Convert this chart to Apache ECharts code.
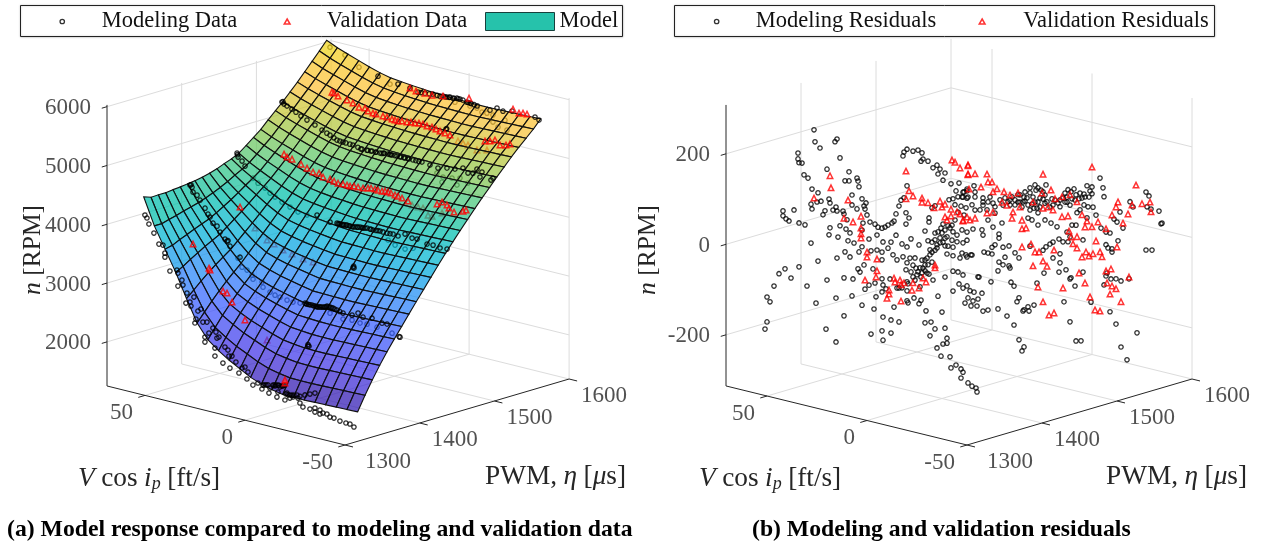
<!DOCTYPE html>
<html><head><meta charset="utf-8">
<style>html,body{margin:0;padding:0;background:#fff}#c{width:1266px;height:544px}</style>
<script src="https://cdn.jsdelivr.net/npm/echarts@6/dist/echarts.min.js"></script>
</head><body><div id="c"></div>
<script>
// ---------- axes ----------
const vTicks=[-50,0,50], pwmTicks=[1300,1400,1500,1600], rpmTicks=[2000,3000,4000,5000,6000], resTicks=[-200,0,200];
// ---------- model surface ----------
const surfaceV=[-47,-41.65,-36.3,-30.95,-25.6,-20.25,-14.9,-9.55,-4.2,1.15,6.5,11.85,17.2,22.55,27.9,33.25,38.6,43.95,49.3,54.65,60];
const surfaceP=[1325,1334.8,1344.6,1354.4,1364.2,1374,1383.8,1393.6,1403.4,1413.2,1423,1432.8,1442.6,1452.4,1462.2,1472,1481.8,1491.6,1501.4,1511.2,1521,1530.8,1540.6,1550.4,1560.2,1570];
const surfaceN=[
[1695,1690,1685,1680,1675,1670,1670,1675,1710,1760,1830,1930,2030,2150,2290,2530,2900,3300,3650,4000,4450],
[1940,1935,1930,1925,1920,1915,1915,1920,1950,1988,2057,2145,2231,2338,2462,2678,3008,3364,3678,4001,4405],
[2165,2160,2155,2150,2145,2140,2140,2145,2170,2202,2265,2343,2420,2518,2631,2827,3125,3448,3738,4037,4410],
[2375,2370,2365,2360,2355,2350,2350,2355,2375,2400,2457,2526,2595,2682,2784,2964,3230,3522,3789,4066,4410],
[2570,2565,2560,2555,2550,2545,2545,2550,2565,2583,2634,2695,2756,2834,2928,3093,3330,3596,3844,4105,4425],
[2750,2745,2740,2735,2730,2725,2725,2730,2740,2752,2798,2851,2905,2975,3060,3211,3422,3661,3893,4137,4435],
[2925,2920,2915,2910,2905,2900,2900,2905,2910,2915,2956,3002,3049,3110,3187,3326,3511,3726,3942,4173,4450],
[3100,3095,3090,3085,3080,3075,3075,3080,3085,3090,3126,3168,3209,3264,3333,3458,3623,3816,4010,4217,4465],
[3275,3270,3265,3260,3255,3250,3250,3255,3260,3265,3297,3334,3371,3420,3481,3592,3740,3912,4084,4269,4490],
[3445,3440,3435,3430,3425,3420,3420,3425,3430,3435,3463,3495,3528,3572,3626,3724,3855,4008,4160,4324,4520],
[3615,3610,3605,3600,3595,3590,3590,3595,3600,3605,3629,3658,3686,3725,3773,3859,3974,4109,4243,4387,4560],
[3785,3780,3775,3770,3765,3760,3760,3765,3770,3775,3795,3820,3846,3879,3921,3997,4098,4215,4333,4459,4610],
[3950,3945,3940,3935,3930,3925,3925,3930,3935,3940,3957,3978,4000,4029,4065,4129,4216,4317,4417,4525,4655],
[4110,4105,4100,4095,4090,4085,4085,4090,4095,4100,4114,4132,4151,4176,4207,4262,4337,4424,4510,4603,4715],
[4265,4260,4255,4250,4245,4240,4240,4245,4250,4255,4267,4284,4300,4323,4351,4401,4468,4547,4625,4709,4810],
[4415,4410,4405,4400,4395,4390,4390,4395,4400,4405,4415,4431,4446,4466,4492,4538,4599,4670,4742,4818,4910],
[4565,4560,4555,4550,4545,4540,4540,4545,4550,4555,4564,4578,4591,4610,4633,4674,4729,4794,4858,4927,5010],
[4710,4705,4700,4695,4690,4685,4685,4690,4695,4700,4708,4721,4735,4752,4774,4814,4867,4928,4990,5056,5135],
[4850,4845,4840,4835,4830,4825,4825,4830,4835,4840,4848,4860,4873,4890,4911,4948,4999,5058,5116,5179,5255],
[4990,4985,4980,4975,4970,4965,4965,4970,4975,4980,4987,4999,5011,5026,5046,5082,5129,5184,5240,5299,5370],
[5125,5120,5115,5110,5105,5100,5100,5105,5110,5115,5122,5133,5145,5161,5180,5215,5262,5317,5371,5430,5500],
[5260,5255,5250,5245,5240,5235,5235,5240,5245,5250,5257,5268,5280,5295,5314,5349,5395,5449,5503,5561,5630],
[5385,5380,5375,5370,5365,5360,5360,5365,5370,5375,5382,5394,5406,5422,5442,5478,5526,5582,5638,5698,5770],
[5505,5500,5495,5490,5485,5480,5480,5485,5490,5495,5503,5515,5528,5545,5566,5603,5654,5713,5771,5834,5910],
[5625,5620,5615,5610,5605,5600,5600,5605,5610,5615,5623,5636,5650,5667,5689,5729,5782,5843,5905,5971,6050],
[5760,5755,5750,5745,5740,5735,5735,5740,5745,5750,5759,5772,5786,5804,5826,5867,5921,5984,6047,6114,6195]];
// ---------- modeling data [V, n], by PWM level ----------
const model1320=[[57.5,4179],[56.5,4137],[55.5,4043],[53,3911],[50.5,3744],[48.5,3744],[47.5,3616],[47.5,3548],[45,3333],[41.5,3378],[41,3331],[39,3229],[41,3110],[38.5,3149],[36.5,3030],[37,2855],[35,2889],[33,2991],[34.5,2826],[31,2770],[29.5,2816],[32,2625],[32.5,2554],[28.5,2603],[26.5,2620],[23.5,2544],[22,2489],[25.5,2442],[27.5,2357],[27.5,2272],[21.5,2391],[20.5,2416],[22.5,2212],[22.5,2076],[18.5,1991],[15,1935],[17.5,2272],[16,2233],[14,2148],[15.5,2136],[12,2063],[10.5,1889],[9,1986],[7.5,2017],[6.5,1821],[6,1944],[3.5,1743],[1,1799],[-1,1714],[-4.5,1675],[-1.5,1786],[-4,1808],[-6.5,1828],[-9,1848],[-12.5,1879],[-8.5,1641],[-12.5,1624],[-15,1678],[-16.5,1709],[-19,1712],[-20,1636],[-22.5,1794],[-25,1831],[-27.5,1869],[-21.5,1580],[-25,1576],[-27.5,1614],[-27.5,1546],[-30,1602],[-31.5,1563],[-30,1534],[-33.5,1563],[-35,1524],[-37,1524],[-40,1498],[-43,1490],[-45,1490],[-47,1456],[-9,1729],[-15,1729],[-13.5,1751],[-10,1823],[-18.5,1760],[-7.5,1820],[-11,1848],[-5,1765],[-7,1830],[-8,1842],[-9.5,1850],[-11.5,1860],[-12,1870],[-3,1800],[-2,1790],[-13,1730],[-14,1725],[-16,1735],[-17,1745],[-20,1750]];
const model1360=[[-9.1,2364],[-9.6,2364],[-9.1,2390]];
const model1388=[[60.35,4409],[59.85,4420],[59.35,4383],[58.85,4303],[56.85,4269],[55.35,4196],[52.85,4081],[51.35,3992],[50.35,3950],[48.85,3860],[46.85,3826],[45.35,3737],[42.85,3639],[41.85,3613],[41.35,3625],[40.35,3540],[35.35,3395],[2.85,2887],[1.85,2879],[-0.65,2884],[-2.15,2879],[-3.65,2875],[-5.65,2892],[-7.15,2904],[-8.15,2930],[-9.65,2925],[-11.15,2921],[-13.15,2904],[-16.15,2879],[-20.65,2882],[-23.65,2942],[-26.15,2894],[-30.65,2914],[-35.65,2872],[-38.15,2877],[-44.65,2710],[-44.2,2715],[2.3,2882],[1,2880],[-1.5,2880],[-3,2876],[-4.5,2885],[-6.5,2898],[-7.8,2915],[-9,2925],[-10.5,2922],[-12,2912],[-14.5,2892],[0.3,2880],[-2.8,2878],[-5,2888]];
const model1420=[[-9.7,3470],[-9.2,3475],[-9.5,3500]];
const model1450=[[60,4725],[59.5,4662],[59.8,4700],[57.5,4611],[56,4538],[20,4009],[13.5,3945],[10,3956],[8.5,3953],[5,3965],[2,3956],[-1.5,3985],[-5,3999],[-8,3990],[-11.5,4002],[-15,3997],[-18,4006],[-20.5,3994],[-24,4057],[-27.5,4018],[-30,4023],[-35,3979],[-38,3987],[-41.5,3967],[-45,3979],[7,3948],[3.5,3962],[0,3973],[-3,3982],[-6.5,3994],[9,3955],[6.5,3960],[4,3962],[1,3968],[-2.5,3985],[-4,3990],[-7,3995],[-9.5,3995],[-10.5,4000],[-13,4000],[-16.5,4000],[9.5,3950],[7.5,3955],[5.5,3960],[2.5,3962],[-0.5,3975]];
const model1510=[[59.95,5369],[59.45,5380],[58.95,5344],[57.45,5322],[54.95,5291],[52.95,5257],[50.45,5211],[47.45,5169],[43.45,5118],[39.95,5061],[35.95,5010],[32.45,4954],[29.45,4946],[24.45,4937],[19.95,4907],[14.95,4915],[10.95,4915],[6.95,4932],[2.45,4936],[-1.55,4936],[-5.55,4936],[-10.05,4939],[-14.05,4922],[-18.05,4905],[-22.55,4942],[-26.55,4959],[-30.55,5010],[-33.05,4946],[-35.55,4966],[-37.55,5051],[-40.05,5022],[-39.05,4929],[-45.55,4966],[-44.55,4924],[17.45,4910],[12.95,4915],[8.95,4932],[4.95,4931],[0.45,4936],[-3.55,4936],[22,4920],[17,4908],[13,4912],[9,4925],[6,4932],[3.5,4935],[1,4936],[-1,4936],[-3,4936],[-7,4936],[-8.5,4937],[20.5,4905],[15.5,4912],[10,4918],[5.5,4932],[26,4940],[28,4944],[31,4950],[34,4980],[37.5,5030]];
const model1540=[[-10.85,5395],[-11.2,5405]];
const model1568=[[33.6,5815],[23.6,5764],[17.6,5747],[13.6,5712],[10.1,5724],[6.1,5741],[2.6,5736],[-0.9,5750],[-3.9,5757],[-7.4,5770],[-10.9,5748],[-12.4,5745],[-22.4,5709],[-25.9,5774],[-28.9,5747],[-33.4,5786],[-44.9,5781],[-46.9,5747],[1.1,5750],[-2.4,5762],[-5.9,5774],[-8.9,5765],[12,5718],[8,5730],[4,5738],[0,5745],[-2,5755],[-4.5,5760],[-6.5,5768],[-11.5,5747],[-13,5742],[-14.5,5735],[-16,5728]];
// modeling points that lie under the surface
const under1388=[[36.35,3370],[34.35,3234],[31.85,3205],[29.35,3140],[28.85,3076],[24.35,3064],[23.85,2982],[20.35,2928],[17.85,2897],[15.35,2884],[11.85,2863],[8.85,2855],[5.35,2867],[-9.65,2823],[-16.15,2777],[-20.65,2797],[-24.65,2780],[-28.15,2792],[-33.15,2783],[-40.65,2744]];
const under1450=[[52,4368],[49.5,4303],[46,4249],[43.5,4184],[41,4138],[37.5,4082],[33.5,4031],[29.5,3980],[25,3967],[-15.5,3883],[-19,3827],[-24,3802],[-28,3851]];
const under1510=[[-17.55,4815],[-20.55,4772],[-25.05,4793],[-29.05,4827],[-27.55,4696],[-33.05,4776],[-20.05,4682]];
const under1550=[[-11.6,5821],[-22.6,5813],[-25.1,5765],[-27.6,5770],[-30.6,5762],[-33.1,5578],[-36.6,5726],[-37.6,5565],[-30.6,5643],[-19.1,5818]];
const under1568=[[43.1,5888],[50.1,6034],[57.6,6105],[27.6,5730]];
// ---------- validation data [V, n], by PWM level ----------
const valid1320=[[-12.5,1913],[-12.5,1964]];
const valid1360=[[48.4,3613],[40.4,3271],[39.9,3242],[33.4,2940],[31.4,2923],[28.9,2790],[22.4,2540]];
const valid1420=[[47.3,4026]];
const valid1475=[[45.85,4733],[44.35,4696],[41.85,4682],[37.35,4635],[34.35,4592],[31.35,4550],[28.35,4558],[26.35,4507],[22.85,4502],[18.85,4468],[16.35,4473],[12.85,4468],[8.85,4485],[3.85,4511],[0.35,4523],[-3.15,4517],[-6.15,4526],[-9.65,4506],[-13.15,4483],[-16.15,4458],[20.85,4485],[14.35,4473],[10.85,4485],[6.35,4489],[2.35,4523],[-1.15,4517],[-4.65,4531],[-7.65,4523],[-11.15,4500],[-30.65,4529],[-33.15,4584],[-35.65,4555],[-36.65,4512],[-39.15,4465],[-43.65,4519],[-45.15,4550]];
const valid1540=[[46.15,5542],[45.15,5534],[43.15,5500],[38.65,5471],[35.65,5444],[32.65,5401],[29.65,5410],[28.15,5372],[25.65,5359],[20.65,5350],[16.15,5337],[13.15,5328],[8.65,5349],[4.65,5366],[0.65,5383],[-3.85,5369],[-7.85,5335],[-12.85,5310],[24.15,5354],[18.65,5350],[14.65,5333],[11.15,5345],[6.65,5366],[2.65,5383],[-1.35,5366],[-5.85,5352],[-10.35,5323],[-30.35,5355],[-32.85,5376],[-35.35,5415],[-37.85,5350],[-40.85,5376],[-42.85,5410]];
const valid1568=[[-11.9,5825],[17.6,5747],[10.1,5724],[1.1,5750],[-33.9,5823],[-36.9,5781],[-38.9,5798],[-40.9,5798],[14.6,5721],[6.6,5719]];
const validUnder1360=[[11.4,2292]];
const validUnder1420=[[39.8,3732],[33.8,3579],[30.3,3542],[25.8,3477],[21.3,3446],[15.8,3409],[10.8,3399]];
const validUnder1475=[[-18.15,4407],[-21.15,4398],[-23.65,4402],[-26.15,4303],[-28.15,4303],[-33.15,4397]];
const validUnder1540=[[-16.85,5242],[-19.35,5228],[-21.85,5216],[-26.35,5169],[-31.35,5211]];
// ---------- residuals [V, residual], by PWM level ----------
const resModel1330=[[37.75,274],[37.25,248],[34.75,237],[26.25,266],[27.25,259],[45.75,214],[45.75,201],[45.25,193],[43.75,194],[24.75,226],[31.25,194],[42.75,169],[40.75,164],[20.25,200],[22.25,178],[20.25,180],[38.75,142],[35.75,137],[39.25,108],[38.75,98],[36.25,116],[34.25,120],[30.25,129],[29.75,121],[26.75,115],[28.25,107],[26.25,107],[32.25,101],[33.25,91],[23.25,110],[22.75,104],[21.25,93],[53.25,78],[53.25,67],[51.75,62],[50.25,59],[47.75,86],[45.25,60],[42.25,59],[39.25,22],[29.75,66],[30.25,50],[24.75,76],[21.75,72],[25.75,50],[20.75,47],[52.25,-49],[55.25,-63],[49.25,-66],[45.25,-37],[57.75,-93],[61.25,-121],[59.75,-130],[61.25,-176],[62.25,-193],[35.75,-14],[26.25,3],[22.25,21],[41.25,-75],[31.25,-51],[22.75,-37],[26.75,-86],[36.75,-108],[22.75,-121],[31.75,-160],[26.75,-183],[-30.25,-154],[-30.75,-178],[-33.25,-169],[-35.75,-175],[-36.75,-181],[-35.75,-195],[-39.25,-202],[-41.25,-207],[-43.25,-209],[-43.75,-217]];
const resModel1400=[[42.5,128],[42,122],[41.5,110],[45,88],[40,85],[38,78],[39,70],[38.5,64],[45,66],[42.5,60],[37.5,52],[46,3],[44,-17],[39.5,32],[40,16],[40,-21],[36.5,0],[36,38],[33.5,36],[32,31],[30,31],[28.5,35],[27,41],[25,48],[24,53],[23,70],[21.5,89],[20.5,103],[19,110],[17.5,138],[19.5,202],[19,211],[17.5,219],[14.5,218],[12,223],[10,219],[10.5,200],[9.5,206],[7,204],[4.5,192],[2.5,200],[1,193],[2,181],[-1.5,187],[-0.5,170],[18,78],[16.5,68],[18,53],[23,23],[25.5,5],[29.5,1],[32.5,13],[15.5,23],[11.5,14],[20,7],[17.5,3],[6.5,79],[6.5,70],[8.5,48],[5,103],[3.5,109],[-3.5,130],[-1.5,61],[0,53],[1,41],[-2.5,47],[-0.5,33],[2.5,24],[-3,27],[7,28],[5,27],[41.5,-34],[46,-50],[44.5,-97],[45,-135],[40,-150],[34,-152],[35.5,-209],[29.5,-165],[25.5,-167],[21.5,-167],[30,-196],[25.5,-196],[29.5,-216],[39,-60],[42,-72],[41,-78],[34.5,-64],[33.5,-94],[36.5,-102],[38.5,-113],[33,-124],[30,-81],[29.5,-94],[26,-77],[28,-101],[30,-110],[24,-137],[21.5,-92],[17.5,-94],[14,-106],[17.5,-116],[17,-120],[11.5,-116],[10.5,-107],[8,-128],[2,-89],[0,-122],[8.5,-155],[5.5,-150],[3.5,-163],[-1.5,-156],[6,-181],[-2.5,-177],[-2.5,-188],[-0.5,-192],[2.5,-204],[0.5,-220],[32.5,-20],[35.5,-25],[30,-22],[27,-10],[24.5,-22],[30,-39],[22.5,-31],[19.5,-21],[16,-20],[13.5,-17],[10,-18],[7.5,-11],[5,5],[2.5,17],[17.5,-32],[18,-48],[14.5,-34],[11,-36],[8.5,-27],[7.5,-44],[10,-46],[12.5,-53],[14.5,-60],[4.5,-56],[6.5,-45],[17,-78],[11,-78],[13.5,-66],[22.5,-93],[20,-90],[17.5,-74],[-1.5,-43],[-2.5,9],[3.5,11],[6,-2],[8.5,-16],[7,-25],[5,-17],[9.5,-35],[12,-46],[8.5,-40],[10.5,-56],[13,-39],[15.5,-50],[6,9],[1,30],[-1.5,43],[3.5,34],[-1.5,26],[2,53],[-3,72],[-0.5,73],[3.5,49],[0.5,63]];
const resModel1480=[[25.5,95],[21.5,101],[23,82],[19.5,83],[17.5,88],[24.5,63],[22,70],[19.5,72],[17,75],[26,-3],[24.5,-10],[22.5,-15],[25,-29],[22.5,-30],[19.5,-29],[24.5,-44],[17.5,-21],[14,103],[17.5,92],[19,84],[13.5,90],[20,72],[17.5,72],[13.5,79],[9.5,81],[6,87],[9.5,65],[4.5,75],[15,60],[11,53],[7.5,57],[3.5,54],[-0.5,76],[-4,80],[-6.5,94],[-9,108],[-11.5,117],[-14,129],[-16.5,138],[-22,144],[-18,133],[-20.5,127],[-9,92],[-12.5,105],[-15.5,110],[-19,112],[-22.5,107],[-14,80],[-17.5,88],[-18,78],[-13,61],[-15,59],[-18,51],[-21.5,66],[0,36],[4.5,22],[7,35],[10,10],[14.5,7],[17.5,-3],[20,-1],[9.5,-1],[1.5,10],[1.5,1],[5,-23],[3.5,-16],[-0.5,-17],[-3.5,-11],[9,-38],[7,-38],[5,-38],[18,-54],[15.5,-51],[20,-52],[-1.5,-38],[-6.5,-23],[-8.5,-32],[1.5,-52],[-0.5,-56],[-3.5,-55],[-4,-59],[2,-72],[-14,0],[-20.5,-2],[-22,7],[-21,-52],[-4,91],[-6.5,83],[-10.5,94],[-13,90],[-16.5,100],[-19,92],[-21.5,103],[1,86],[3.5,68],[7,75],[9.5,72],[24.5,-63],[21,-64],[17.5,-58],[15,-51],[24.5,-97],[22,-96],[19.5,-100],[21.5,-122],[17.5,-122],[24.5,-141],[16,-131],[14,-132],[17,-148],[14.5,-152],[12,-145],[18.5,-161],[15.5,-164],[12.5,-161],[12,-96],[11.5,-96],[5.5,-100],[19.5,-129],[10,-130],[9.5,-169],[7,-164],[2,-156],[-2.5,-167],[-6,-183],[-8.5,-213],[-11,-226],[-10,-236],[-4.5,-90],[-6,-97],[-8.5,-120],[-7.5,-130],[-10.5,-147],[-11,-144],[-13,-135],[-13.5,-144],[-16,-128],[-17.5,-78],[-1.5,93],[-5,99],[-8,107],[-11,105],[-14,118],[-17,127],[-19.5,130],[-21.5,121],[-3,86],[-8,91],[-11.5,97],[-15,94],[-18,102],[-20.5,111],[-10,82],[-16,86],[23.5,51],[20.5,51],[18,50],[22,36],[19,33],[23.5,17],[25,4],[13.5,50]];
const resModel1570=[[8.25,23],[4.75,38],[1.25,48],[0.75,65],[-2.25,70],[-5.25,64],[-8.75,84],[-11.25,84],[-11.25,69],[-15.25,108],[-16.75,88],[-17.25,69],[-7.75,58],[-7.25,40],[-11.75,40],[-9.25,38],[-5.25,27],[-3.75,19],[-13.25,24],[-8.75,13],[9.25,-18],[6.25,-23],[9.75,17],[7.25,35],[4.75,23],[2.25,36],[-0.25,32],[-2.75,46],[-6.25,54],[9.75,-65],[8.25,-59],[5.25,-49],[3.25,-53],[0.75,-50],[1.25,-29],[-1.25,-11],[-3.25,-9],[-0.25,-38],[-6.75,-38],[8.25,-94],[4.75,-81],[4.75,-101],[1.75,-113],[5.25,-122],[-6.75,-109],[-0.75,-128],[-15.75,-2],[-18.25,-8],[-20.25,-8],[-24.25,-21],[-18.25,-36],[-19.25,-42],[-21.25,-42],[-21.25,-49],[-26.75,10],[-23.75,20],[-22.25,25],[-25.25,44],[-30.25,72],[-31.75,62],[-38.25,102],[-39.75,95],[-38.75,70],[-40.75,67],[-44.75,67],[-46.25,42],[-45.75,40],[-38.25,-26],[-41.25,-23],[-18.75,-98],[-0.25,-131],[-2.75,-144],[2.75,-185],[-0.25,-226],[-3.25,-265],[-5.75,-262],[-10.75,-171],[-17.25,-126],[-18.25,-105],[-20.75,-109],[-23.25,-106],[-25.75,-108],[-20.25,-182],[-23.25,-206],[-33.75,-214],[-25.75,-254],[-28.75,-279],[-29.75,-99],[8.75,36],[5.75,30],[3.25,44],[1.25,37],[-1.25,47],[-3.25,58],[-4.75,51],[-7.25,64],[-10.25,74],[-9.75,60],[-0.75,62],[2.25,56]];
const resValid1330=[[29.75,181],[29.25,155],[37.75,123],[20.75,137],[22.75,95]];
const resValid1400=[[40.5,46],[40.5,20],[40.5,7],[40.5,-2],[44.5,29],[18,170],[16.5,128],[14.5,119],[18,109],[10,119],[10,110],[7,112],[4,104],[1,122],[0,110],[-1.5,118],[-1.5,90],[-2.5,84],[37.5,-30],[37.5,-41],[32.5,-40],[32.5,-66],[33,-80],[38.5,-93],[24,-73],[23.5,-81],[21,-74],[19,-78],[20.5,-84],[26.5,-102],[26.5,-111],[27.5,-121],[20.5,-120],[14.5,-73],[15,-90],[11.5,-81],[9.5,-57],[8,-64],[3.5,-22],[3.5,-28]];
const resValid1480=[[25.5,39],[22.5,36],[21,33],[25.5,24],[19.5,21],[17.5,30],[25,148],[23.5,145],[21,135],[17,146],[17,124],[16.5,93],[17,144],[17,126],[13.5,130],[7.5,136],[7,119],[5,121],[10.5,104],[2.5,109],[-1,106],[-4,102],[4.5,100],[-20.5,166],[-8,111],[-20,124],[0,82],[-2.5,78],[-5.5,66],[-9,81],[-10,53],[-5,52],[-15.5,99],[-20.5,91],[-23,96],[16,25],[13.5,32],[19.5,19],[7.5,50],[4.5,55],[-10,34],[-12,38],[-10,-6],[-14.5,5],[-16.5,-10],[-18.5,-8],[-20.5,-26],[-15.5,-42],[-22.5,-35],[-18,-86],[-20.5,-116],[-23.5,-142]];
const resValid1570=[[-11.25,128],[9.25,55],[7.25,38],[3.75,46],[-0.25,55],[-3.75,43],[8.25,12],[3.75,2],[0.75,7],[-6.25,17],[-8.75,6],[-7.75,-8],[-11.25,-4],[-14.25,10],[-18.25,-1],[0.25,-26],[-3.75,-34],[-0.75,-38],[-1.75,-52],[-3.75,-59],[-13.25,-33],[-21.25,33],[-23.25,53],[-24.25,65],[-26.75,21],[-29.25,44],[-31.25,66],[-36.25,74],[-40.25,82],[-40.75,61],[-33.25,112],[7.75,-76],[-4.75,-113],[-8.25,-63],[-6.25,-76],[-9.75,-70],[-11.75,-63],[-15.25,-55],[-16.25,-65],[-23.75,-35],[-18.25,-94],[-20.75,-87],[-29.75,-95],[3.25,-155],[-7.75,-132],[7.75,-215],[-10.25,-160],[-12.75,-186],[-15.25,-186],[-18.75,-120],[-21.25,-124],[-23.25,-128],[-20.25,-143],[-25.75,-154]];

// ---------- view projections (orthographic) ----------
const viewA={ox:345,oy:445,vx:-2,vy:-0.496,px:0.747,py:-0.22,s:0.0588,zMin:1250,zMax:6030,vMax:69};
const viewB={ox:967,oy:445,vx:-2,vy:-0.49,px:0.75,py:-0.22,s:0.4525,zMin:-313,zMax:308,vMax:70.5};
const proj=(w,V,P,z)=>[w.ox+w.vx*(V+50)+w.px*(P-1300), w.oy+w.vy*(V+50)+w.py*(P-1300)-w.s*(z-w.zMin)];
const row=(w,P,pts)=>pts.map(d=>proj(w,d[0],P,d[1]));
const FONT='"Liberation Serif","Times New Roman",serif';

function segs(w,idx,list,color,z){
  return {type:'custom',xAxisIndex:idx,yAxisIndex:idx,silent:true,z,clip:false,animation:false,
    data:list.map(s=>[...proj(w,...s[0]),...proj(w,...s[1])]),encode:{x:[0,2],y:[1,3]},
    renderItem:(p,api)=>{const a=api.coord([api.value(0),api.value(1)]),b=api.coord([api.value(2),api.value(3)]);
      return {type:'line',shape:{x1:a[0],y1:a[1],x2:b[0],y2:b[1]},style:{stroke:color,lineWidth:1}};}};
}
function gridSegs(w,zt){
  const a=[],P0=1300,P1=1600,V0=-50,V1=w.vMax;
  zt.forEach(z=>{a.push([[V1,P0,z],[V1,P1,z]]);a.push([[V1,P1,z],[V0,P1,z]]);});
  pwmTicks.slice(1).forEach(P=>a.push([[V1,P,w.zMin],[V1,P,w.zMax]]));
  vTicks.forEach(V=>a.push([[V,P1,w.zMin],[V,P1,w.zMax]]));
  vTicks.slice(1).forEach(V=>a.push([[V,P0,w.zMin],[V,P1,w.zMin]]));
  pwmTicks.slice(1).forEach(P=>a.push([[V0,P,w.zMin],[V1,P,w.zMin]]));
  return a;
}
function axisSegs(w,zt){
  const a=[[[w.vMax,1300,w.zMin],[w.vMax,1300,w.zMax]],[[w.vMax,1300,w.zMin],[-50,1300,w.zMin]],[[-50,1300,w.zMin],[-50,1600,w.zMin]]];
  zt.forEach(z=>a.push([[w.vMax,1300,z],[w.vMax,1293,z]]));
  vTicks.forEach(V=>a.push([[V,1300,w.zMin],[V,1291,w.zMin]]));
  pwmTicks.forEach(P=>a.push([[-50,P,w.zMin],[-54,P,w.zMin]]));
  return a;
}
function tickLabels(w,idx,zt){
  const items=[];
  zt.forEach(z=>items.push({value:proj(w,w.vMax,1300,z),label:{formatter:String(z),align:'right',offset:[-16,1.5]}}));
  vTicks.forEach(V=>items.push({value:proj(w,V,1300,w.zMin),label:{formatter:String(V),align:'right',offset:[-12,17.5]}}));
  pwmTicks.forEach(P=>items.push({value:proj(w,-50,P,w.zMin),label:{formatter:String(P),align:'left',offset:[P===1300?20:12,17]}}));
  return {type:'scatter',xAxisIndex:idx,yAxisIndex:idx,symbolSize:0,silent:true,z:6,clip:false,animation:false,
    label:{show:true,position:'inside',verticalAlign:'middle',fontFamily:FONT,fontSize:23,color:'#262626'},data:items};
}
const circ={color:'rgba(255,255,255,0)',borderColor:'#000',borderWidth:1.3};
const tri={color:'rgba(255,255,255,0.2)',borderColor:'#f00',borderWidth:1.5};
function pts(name,idx,data,kind,z){
  return {name,type:'scatter',xAxisIndex:idx,yAxisIndex:idx,symbol:kind==='c'?'circle':'triangle',symbolSize:kind==='c'?4.4:5.5,
    itemStyle:kind==='c'?circ:tri,data,z,silent:true,clip:false,animation:false,large:false};
}
// colour of the surface as a function of n (composited colours over white)
const cStops=[[1700,[104,84,190]],[2200,[118,108,238]],[2800,[112,138,255]],[3300,[96,170,250]],[3800,[62,200,225]],[4200,[68,208,196]],[4600,[116,214,162]],[5000,[175,214,122]],[5300,[218,214,108]],[5600,[254,210,112]],[5900,[250,214,100]],[6200,[238,228,80]]];
function cmap(n){
  if(n<=cStops[0][0])return cStops[0][1];
  for(let i=1;i<cStops.length;i++){ if(n<=cStops[i][0]){const t=(n-cStops[i-1][0])/(cStops[i][0]-cStops[i-1][0]);
    return cStops[i][1].map((c,j)=>Math.round(cStops[i-1][1][j]+(c-cStops[i-1][1][j])*t));}}
  return cStops[cStops.length-1][1];
}
const surfaceAlpha=0.72;
const cells=[];
for(let k=surfaceP.length-2;k>=0;k--)for(let c=surfaceV.length-2;c>=0;c--)cells.push([k,c]);
const surfaceSeries={name:'Model',type:'custom',xAxisIndex:0,yAxisIndex:0,silent:true,z:4,clip:false,animation:false,
  data:cells.map(d=>[...proj(viewA,surfaceV[d[1]],surfaceP[d[0]],surfaceN[d[0]][d[1]]),d[0],d[1]]),encode:{x:0,y:1},
  renderItem:(p,api)=>{const k=api.value(2),c=api.value(3);
    const q=[[k,c],[k,c+1],[k+1,c+1],[k+1,c]].map(a=>api.coord(proj(viewA,surfaceV[a[1]],surfaceP[a[0]],surfaceN[a[0]][a[1]])));
    const n=(surfaceN[k][c]+surfaceN[k][c+1]+surfaceN[k+1][c]+surfaceN[k+1][c+1])/4;
    const m=cmap(n).map(v=>Math.max(0,Math.round((v-(1-surfaceAlpha)*255)/surfaceAlpha)));
    return {type:'polygon',shape:{points:q},style:{fill:`rgba(${m[0]},${m[1]},${m[2]},${surfaceAlpha})`,stroke:'#111',lineWidth:1.1}};}};

const iconCircle='path://M5 0A5 5 0 1 1 5 10A5 5 0 1 1 5 0Z';
const iconTri='path://M5 0L10 8.66L0 8.66Z';
function legendItem(name,left,w,h,icon,style){
  return {show:true,left,top:10,orient:'horizontal',itemWidth:w,itemHeight:h,selectedMode:false,padding:0,
    textStyle:{fontFamily:FONT,fontSize:22.5,color:'#111'},data:[{name,icon,itemStyle:style}]};
}
const mathRich={
  i:{fontFamily:FONT,fontSize:27.3,fontStyle:'italic',fill:'#262626'},
  t:{fontFamily:FONT,fontSize:27.3,fill:'#262626'},
  s:{fontFamily:FONT,fontSize:18,fontStyle:'italic',fill:'#262626',padding:[10,0,0,0]}};
const rpmRich={
  i:{fontFamily:FONT,fontSize:25.5,fontStyle:'italic',fill:'#262626'},
  t:{fontFamily:FONT,fontSize:25.5,fill:'#262626'}};
const txt=(x,y,text,extra)=>({type:'text',x,y,silent:true,style:Object.assign({text,fill:'#262626',font:'26px '+FONT,rich:mathRich,verticalAlign:'middle'},extra||{})});
const box=(x,y,w,h)=>({type:'rect',silent:true,shape:{x,y,width:w,height:h},style:{fill:'#fff',stroke:'#222',lineWidth:1,shadowBlur:2,shadowColor:'rgba(0,0,0,.25)'},z:0});

const option={animation:false,backgroundColor:'#fff',
  grid:[{left:0,top:0,width:633,height:544},{left:633,top:0,width:633,height:544}],
  xAxis:[{type:'value',gridIndex:0,min:0,max:633,show:false},{type:'value',gridIndex:1,min:633,max:1266,show:false}],
  yAxis:[{type:'value',gridIndex:0,min:0,max:544,inverse:true,show:false},{type:'value',gridIndex:1,min:0,max:544,inverse:true,show:false}],
  legend:[
    legendItem('Modeling Data',59.4,69,4.4,iconCircle,circ),
    legendItem('Validation Data',283.5,69,5,iconTri,tri),
    legendItem('Model',485,69,18,'rect',{color:'#26c2ab',borderColor:'#17403c',borderWidth:1}),
    legendItem('Modeling Residuals',713.8,68,4.4,iconCircle,circ),
    legendItem('Validation Residuals',978.5,72,5,iconTri,tri)],
  graphic:{elements:[
    box(20.5,5.5,602,31),box(674.5,5.5,540,31),
    txt(78,479,'{i|V} {t|cos} {i|i}{s|p} {t|[ft/s]}'),
    txt(485,477,'{t|PWM,} {i|η} {t|[}{i|μ}{t|s]}'),
    txt(699,479,'{i|V} {t|cos} {i|i}{s|p} {t|[ft/s]}'),
    txt(1106,477,'{t|PWM,} {i|η} {t|[}{i|μ}{t|s]}'),
    Object.assign(txt(33,250,'{i|n} {t|[RPM]}',{align:'center',rich:rpmRich}),{rotation:Math.PI/2}),
    Object.assign(txt(648,250,'{i|n} {t|[RPM]}',{align:'center',rich:rpmRich}),{rotation:Math.PI/2}),
    txt(7,530,'(a) Model response compared to modeling and validation data',{font:'bold 23.7px '+FONT,fill:'#000',rich:null}),
    txt(752,530,'(b) Modeling and validation residuals',{font:'bold 23.7px '+FONT,fill:'#000',rich:null})
  ]},
  series:[
    segs(viewA,0,gridSegs(viewA,rpmTicks),'#dcdcdc',1),
    segs(viewB,1,gridSegs(viewB,resTicks),'#dcdcdc',1),
    segs(viewA,0,axisSegs(viewA,rpmTicks),'#262626',2),
    segs(viewB,1,axisSegs(viewB,resTicks),'#262626',2),
    tickLabels(viewA,0,rpmTicks),tickLabels(viewB,1,resTicks),
    pts('Modeling Data',0,[...row(viewA,1388,under1388),...row(viewA,1450,under1450),...row(viewA,1510,under1510),...row(viewA,1550,under1550),...row(viewA,1568,under1568)],'c',3),
    pts('Validation Data',0,[...row(viewA,1360,validUnder1360),...row(viewA,1420,validUnder1420),...row(viewA,1475,validUnder1475),...row(viewA,1540,validUnder1540)],'t',3),
    surfaceSeries,
    pts('Modeling Data',0,[...row(viewA,1320,model1320),...row(viewA,1360,model1360),...row(viewA,1388,model1388),...row(viewA,1420,model1420),...row(viewA,1450,model1450),...row(viewA,1510,model1510),...row(viewA,1540,model1540),...row(viewA,1568,model1568)],'c',5),
    pts('Validation Data',0,[...row(viewA,1320,valid1320),...row(viewA,1360,valid1360),...row(viewA,1420,valid1420),...row(viewA,1475,valid1475),...row(viewA,1540,valid1540),...row(viewA,1568,valid1568)],'t',5),
    pts('Modeling Residuals',1,[...row(viewB,1330,resModel1330),...row(viewB,1400,resModel1400),...row(viewB,1480,resModel1480),...row(viewB,1570,resModel1570)],'c',5),
    pts('Validation Residuals',1,[...row(viewB,1330,resValid1330),...row(viewB,1400,resValid1400),...row(viewB,1480,resValid1480),...row(viewB,1570,resValid1570)],'t',5)
  ]};
echarts.init(document.getElementById('c'),null,{renderer:'canvas'}).setOption(option);
</script></body></html>
